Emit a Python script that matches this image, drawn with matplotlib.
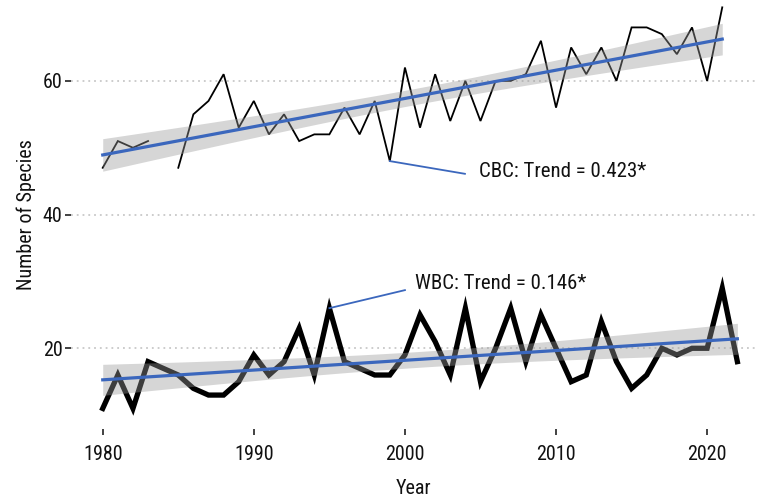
import numpy as np
import matplotlib
matplotlib.use("Agg")
import matplotlib.pyplot as plt

plt.rcParams['font.family'] = ['Roboto Condensed', 'DejaVu Sans']

years = list(range(1980, 2023))
cbc = [47, 51, 50, 51, np.nan, 47, 55, 57, 61, 53,
       57, 52, 55, 51, 52, 52, 56, 52, 57, 48,
       62, 53, 61, 54, 60, 54, 60, 60, 61, 66,
       56, 65, 61, 65, 60, 68, 68, 67, 64, 68,
       60, 71, np.nan]
wbc = [11, 16, 11, 18, 17, 16, 14, 13, 13, 15,
       19, 16, 18, 23, 16, 26, 18, 17, 16, 16,
       19, 25, 21, 16, 26, 15, 20, 26, 18, 25,
       20, 15, 16, 24, 18, 14, 16, 20, 19, 20,
       20, 29, 18]
x_ticks = [1980, 1990, 2000, 2010, 2020]
y_ticks = [20, 40, 60]
cbc_label = "CBC: Trend = 0.423*"
wbc_label = "WBC: Trend = 0.146*"

W, H = 757, 501
fig = plt.figure(figsize=(W / 100, H / 100), dpi=100)
left, right, top, bottom = 71, 757, 0, 428.5
ax = fig.add_axes([left / W, 1 - bottom / H, (right - left) / W, (bottom - top) / H])
ax.set_xlim(1977.9, 2023.3)
ax.set_ylim(8, 72.1)

for s in ax.spines.values():
    s.set_visible(False)

for yv in y_ticks:
    ax.axhline(yv, color='#c8c8c8', lw=1.3, ls=(0, (1, 2.2)), zorder=0)

x = np.array(years, dtype=float)
blue = '#3b67bd'


def fit(xs, ys):
    m = ~np.isnan(ys)
    xv, yv = xs[m], ys[m]
    n = len(xv)
    b, a = np.polyfit(xv, yv, 1)
    resid = yv - (a + b * xv)
    s = np.sqrt(np.sum(resid ** 2) / (n - 2))
    xg = np.linspace(xv.min(), xv.max(), 100)
    yg = a + b * xg
    se = s * np.sqrt(1 / n + (xg - xv.mean()) ** 2 / np.sum((xv - xv.mean()) ** 2))
    t = 2.02
    return xg, yg, yg - t * se, yg + t * se


yc = np.array(cbc, dtype=float)
yw = np.array(wbc, dtype=float)

ax.plot(x, yc, color='black', lw=1.3, zorder=2, solid_joinstyle='miter')
ax.plot(x, yw, color='black', lw=3.8, zorder=2, solid_joinstyle='miter')

for ys in (yc, yw):
    xg, yg, lo, hi = fit(x, ys)
    ax.fill_between(xg, lo, hi, color='#999999', alpha=0.4, lw=0, zorder=3)
    ax.plot(xg, yg, color=blue, lw=2.3, zorder=4)

# annotations
ax.plot([1999, 2003.97], [cbc[years.index(1999)], 46.1], color=blue, lw=1.3, zorder=5)
ax.text(2004.9, 46.4, cbc_label, fontsize=15, va='center', ha='left', color='#111111')
ax.plot([1995, 2000.0], [wbc[years.index(1995)], 28.7], color=blue, lw=1.3, zorder=5)
ax.text(2000.66, 29.76, wbc_label, fontsize=15, va='center', ha='left', color='#111111')

ax.set_xticks(x_ticks)
ax.set_xticklabels([str(v) for v in x_ticks])
ax.set_yticks(y_ticks)
ax.set_yticklabels([str(v) for v in y_ticks])
ax.tick_params(axis='both', length=4, width=1.3, color='#333333', labelsize=14.5,
               labelcolor='#111111')
ax.tick_params(axis='x', pad=8)
ax.tick_params(axis='y', pad=2)
ax.set_xlabel("Year", fontsize=14.5, labelpad=11, color='#111111')
ax.set_ylabel("Number of Species", fontsize=14.5, labelpad=5, color='#111111')

fig.savefig("out.png", dpi=100)
